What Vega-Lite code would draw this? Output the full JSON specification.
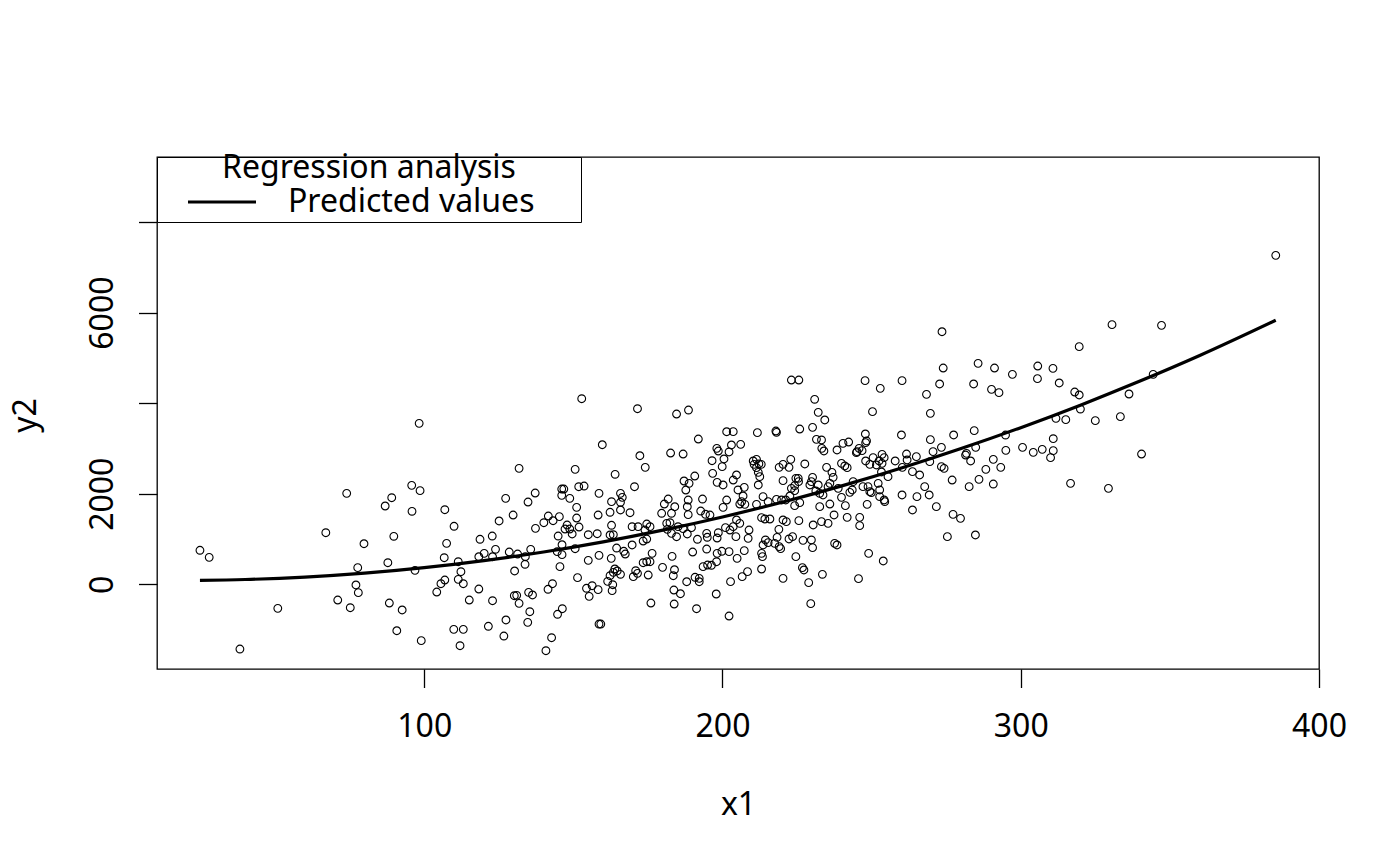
{
  "$schema": "https://vega.github.io/schema/vega-lite/v6.json",
  "description": "Scatter of y2 against x1 with a quadratic regression curve, base-R look.",
  "width": 1162,
  "height": 512,
  "autosize": {"type": "none"},
  "padding": {"left": 157, "top": 157, "right": 81, "bottom": 197},
  "background": "white",
  "datasets": {
    "points": [
      {"x1":98.3,"y2":3555},{"x1":74.0,"y2":2009},{"x1":95.8,"y2":2186},{"x1":98.6,"y2":2067},{"x1":89.1,"y2":1912},{"x1":86.9,"y2":1729},{"x1":95.9,"y2":1612},{"x1":106.9,"y2":1647},{"x1":110.0,"y2":1281},{"x1":67.0,"y2":1139},{"x1":89.8,"y2":1060},{"x1":79.8,"y2":896},{"x1":107.5,"y2":905},{"x1":118.7,"y2":994},{"x1":24.8,"y2":751},{"x1":27.9,"y2":596},{"x1":77.7,"y2":367},{"x1":87.8,"y2":477},{"x1":96.9,"y2":309},{"x1":106.7,"y2":587},{"x1":111.4,"y2":499},{"x1":112.3,"y2":278},{"x1":118.3,"y2":609},{"x1":77.1,"y2":-15},{"x1":77.9,"y2":-185},{"x1":105.6,"y2":13},{"x1":106.9,"y2":95},{"x1":104.2,"y2":-170},{"x1":111.4,"y2":110},{"x1":113.1,"y2":13},{"x1":118.3,"y2":-104},{"x1":71.0,"y2":-347},{"x1":75.2,"y2":-517},{"x1":88.3,"y2":-413},{"x1":92.6,"y2":-567},{"x1":115.1,"y2":-347},{"x1":50.9,"y2":-530},{"x1":90.8,"y2":-1025},{"x1":109.9,"y2":-994},{"x1":113.1,"y2":-994},{"x1":99.0,"y2":-1245},{"x1":112.0,"y2":-1356},{"x1":38.2,"y2":-1429},
      {"x1":152.8,"y2":4098},{"x1":171.5,"y2":3877},{"x1":184.6,"y2":3760},{"x1":188.6,"y2":3848},{"x1":201.4,"y2":3369},{"x1":191.9,"y2":3208},{"x1":159.7,"y2":3082},{"x1":172.3,"y2":2839},{"x1":182.6,"y2":2899},{"x1":186.8,"y2":2877},{"x1":174.1,"y2":2583},{"x1":131.8,"y2":2561},{"x1":150.6,"y2":2539},{"x1":164.0,"y2":2429},{"x1":198.1,"y2":3003},{"x1":198.6,"y2":2943},{"x1":196.5,"y2":2729},{"x1":200.5,"y2":2767},{"x1":199.9,"y2":2597},{"x1":196.7,"y2":2451},{"x1":190.7,"y2":2391},{"x1":187.1,"y2":2281},{"x1":188.8,"y2":2230},{"x1":187.7,"y2":2082},{"x1":198.2,"y2":2252},{"x1":200.2,"y2":2193},{"x1":201.4,"y2":1861},{"x1":170.5,"y2":2155},{"x1":151.8,"y2":2155},{"x1":153.6,"y2":2170},{"x1":146.1,"y2":2104},{"x1":146.8,"y2":2104},{"x1":146.1,"y2":1965},{"x1":148.8,"y2":1899},{"x1":137.2,"y2":2016},{"x1":134.8,"y2":1817},{"x1":127.3,"y2":1899},{"x1":158.6,"y2":2009},{"x1":165.8,"y2":2009},{"x1":166.4,"y2":1921},{"x1":162.8,"y2":1824},{"x1":165.8,"y2":1811},{"x1":151.1,"y2":1700},{"x1":125.1,"y2":1398},{"x1":129.8,"y2":1530},{"x1":141.6,"y2":1508},{"x1":140.1,"y2":1360},{"x1":145.3,"y2":1493},{"x1":143.2,"y2":1404},{"x1":151.1,"y2":1464},{"x1":158.3,"y2":1530},{"x1":162.3,"y2":1590},{"x1":165.8,"y2":1641},{"x1":169.0,"y2":1581},{"x1":181.8,"y2":1883},{"x1":180.5,"y2":1773},{"x1":184.0,"y2":1713},{"x1":188.5,"y2":1861},{"x1":188.2,"y2":1713},{"x1":188.5,"y2":1537},{"x1":193.3,"y2":1883},{"x1":192.7,"y2":1618},{"x1":194.3,"y2":1546},{"x1":195.8,"y2":1530},{"x1":179.6,"y2":1568},{"x1":182.9,"y2":1568},{"x1":200.2,"y2":1700},{"x1":137.3,"y2":1236},{"x1":147.9,"y2":1309},{"x1":148.8,"y2":1221},{"x1":151.9,"y2":1265},{"x1":147.2,"y2":1221},{"x1":149.6,"y2":1111},{"x1":155.0,"y2":1095},{"x1":158.0,"y2":1117},{"x1":162.8,"y2":1303},{"x1":162.3,"y2":1089},{"x1":163.4,"y2":1095},{"x1":169.7,"y2":1272},{"x1":171.7,"y2":1272},{"x1":174.6,"y2":1331},{"x1":175.7,"y2":1272},{"x1":174.0,"y2":1199},{"x1":173.4,"y2":956},{"x1":174.6,"y2":1000},{"x1":181.3,"y2":1347},{"x1":182.4,"y2":1360},{"x1":181.5,"y2":1214},{"x1":185.1,"y2":1272},{"x1":186.8,"y2":1228},{"x1":182.9,"y2":1126},{"x1":184.6,"y2":1051},{"x1":188.2,"y2":1111},{"x1":189.6,"y2":1250},{"x1":194.7,"y2":1126},{"x1":198.6,"y2":1139},{"x1":198.2,"y2":1022},{"x1":201.0,"y2":1250},{"x1":194.9,"y2":1038},{"x1":191.6,"y2":994},{"x1":122.8,"y2":1066},{"x1":120.1,"y2":684},{"x1":123.9,"y2":773},{"x1":122.9,"y2":609},{"x1":128.5,"y2":713},{"x1":131.3,"y2":669},{"x1":135.7,"y2":773},{"x1":133.9,"y2":609},{"x1":133.8,"y2":442},{"x1":144.9,"y2":1066},{"x1":146.2,"y2":874},{"x1":144.6,"y2":720},{"x1":146.2,"y2":654},{"x1":150.6,"y2":786},{"x1":158.6,"y2":640},{"x1":155.0,"y2":530},{"x1":145.5,"y2":389},{"x1":130.3,"y2":294},{"x1":164.5,"y2":801},{"x1":162.7,"y2":574},{"x1":166.9,"y2":729},{"x1":167.4,"y2":669},{"x1":169.7,"y2":868},{"x1":176.4,"y2":684},{"x1":174.6,"y2":499},{"x1":175.7,"y2":499},{"x1":173.4,"y2":477},{"x1":183.1,"y2":618},{"x1":190.0,"y2":713},{"x1":194.7,"y2":779},{"x1":198.2,"y2":684},{"x1":199.8,"y2":729},{"x1":198.0,"y2":499},{"x1":196.3,"y2":420},{"x1":195.0,"y2":426},{"x1":193.5,"y2":389},{"x1":179.9,"y2":375},{"x1":183.9,"y2":322},{"x1":183.5,"y2":190},{"x1":163.9,"y2":338},{"x1":164.7,"y2":294},{"x1":163.4,"y2":265},{"x1":165.8,"y2":221},{"x1":162.3,"y2":190},{"x1":161.5,"y2":66},{"x1":163.2,"y2":-9},{"x1":163.0,"y2":-141},{"x1":170.9,"y2":300},{"x1":170.1,"y2":168},{"x1":171.5,"y2":243},{"x1":175.1,"y2":205},{"x1":151.4,"y2":146},{"x1":154.4,"y2":-88},{"x1":156.3,"y2":-31},{"x1":158.3,"y2":-119},{"x1":155.3,"y2":-265},{"x1":143.0,"y2":13},{"x1":141.5,"y2":-110},{"x1":122.9,"y2":-362},{"x1":130.2,"y2":-252},{"x1":131.0,"y2":-243},{"x1":131.8,"y2":-420},{"x1":135.0,"y2":-177},{"x1":136.3,"y2":-236},{"x1":188.0,"y2":57},{"x1":192.2,"y2":132},{"x1":192.2,"y2":57},{"x1":190.8,"y2":155},{"x1":183.7,"y2":-126},{"x1":185.9,"y2":-208},{"x1":197.9,"y2":-214},{"x1":176.0,"y2":-413},{"x1":183.8,"y2":-435},{"x1":191.3,"y2":-539},{"x1":135.4,"y2":-605},{"x1":134.7,"y2":-839},{"x1":127.4,"y2":-788},{"x1":121.5,"y2":-927},{"x1":126.7,"y2":-1142},{"x1":146.3,"y2":-539},{"x1":144.7,"y2":-662},{"x1":142.7,"y2":-1179},{"x1":140.8,"y2":-1466},{"x1":158.6,"y2":-877},{"x1":159.2,"y2":-877},
      {"x1":223.1,"y2":4511},{"x1":225.6,"y2":4511},{"x1":247.8,"y2":4497},{"x1":252.9,"y2":4327},{"x1":260.2,"y2":4497},{"x1":268.4,"y2":4195},{"x1":272.8,"y2":4423},{"x1":274.0,"y2":4776},{"x1":284.2,"y2":4423},{"x1":285.7,"y2":4879},{"x1":230.9,"y2":4085},{"x1":232.1,"y2":3797},{"x1":234.3,"y2":3628},{"x1":250.3,"y2":3812},{"x1":269.7,"y2":3775},{"x1":203.6,"y2":3371},{"x1":211.7,"y2":3349},{"x1":217.9,"y2":3385},{"x1":218.1,"y2":3356},{"x1":225.9,"y2":3429},{"x1":230.2,"y2":3466},{"x1":247.9,"y2":3319},{"x1":260.0,"y2":3297},{"x1":277.5,"y2":3297},{"x1":284.4,"y2":3393},{"x1":269.7,"y2":3194},{"x1":231.5,"y2":3201},{"x1":233.2,"y2":3187},{"x1":248.3,"y2":3165},{"x1":242.3,"y2":3142},{"x1":240.4,"y2":3113},{"x1":238.4,"y2":2966},{"x1":233.3,"y2":3003},{"x1":234.0,"y2":2944},{"x1":245.8,"y2":3003},{"x1":244.9,"y2":2907},{"x1":248.0,"y2":3128},{"x1":206.1,"y2":3091},{"x1":203.0,"y2":3076},{"x1":202.2,"y2":2922},{"x1":210.3,"y2":2723},{"x1":211.4,"y2":2760},{"x1":210.6,"y2":2649},{"x1":212.2,"y2":2657},{"x1":213.0,"y2":2649},{"x1":211.4,"y2":2576},{"x1":212.0,"y2":2473},{"x1":212.5,"y2":2377},{"x1":212.0,"y2":2193},{"x1":222.9,"y2":2760},{"x1":220.3,"y2":2649},{"x1":219.0,"y2":2583},{"x1":222.3,"y2":2583},{"x1":227.6,"y2":2657},{"x1":234.9,"y2":2583},{"x1":236.7,"y2":2473},{"x1":237.1,"y2":2362},{"x1":239.9,"y2":2671},{"x1":241.0,"y2":2613},{"x1":241.8,"y2":2576},{"x1":245.1,"y2":2929},{"x1":246.8,"y2":2951},{"x1":248.0,"y2":2723},{"x1":250.5,"y2":2797},{"x1":252.5,"y2":2723},{"x1":253.5,"y2":2870},{"x1":254.2,"y2":2797},{"x1":253.5,"y2":2671},{"x1":249.4,"y2":2649},{"x1":251.6,"y2":2635},{"x1":253.3,"y2":2480},{"x1":257.9,"y2":2723},{"x1":261.7,"y2":2877},{"x1":261.9,"y2":2745},{"x1":260.3,"y2":2583},{"x1":265.0,"y2":2819},{"x1":266.1,"y2":2414},{"x1":263.7,"y2":2487},{"x1":269.5,"y2":2708},{"x1":270.6,"y2":2929},{"x1":273.4,"y2":3025},{"x1":273.4,"y2":2598},{"x1":274.3,"y2":2561},{"x1":281.5,"y2":2855},{"x1":281.8,"y2":2892},{"x1":283.2,"y2":2723},{"x1":284.9,"y2":3025},{"x1":204.7,"y2":2414},{"x1":203.6,"y2":2303},{"x1":205.2,"y2":2083},{"x1":207.3,"y2":2141},{"x1":206.9,"y2":1950},{"x1":206.4,"y2":1825},{"x1":205.8,"y2":1773},{"x1":207.5,"y2":1766},{"x1":220.3,"y2":2289},{"x1":224.6,"y2":2340},{"x1":225.4,"y2":2340},{"x1":225.5,"y2":2267},{"x1":224.2,"y2":2178},{"x1":224.2,"y2":2068},{"x1":223.1,"y2":2119},{"x1":230.2,"y2":2362},{"x1":229.8,"y2":2267},{"x1":229.3,"y2":2193},{"x1":232.1,"y2":2193},{"x1":236.0,"y2":2230},{"x1":235.4,"y2":2156},{"x1":231.3,"y2":2061},{"x1":232.6,"y2":2009},{"x1":233.7,"y2":1972},{"x1":238.8,"y2":2119},{"x1":243.8,"y2":2267},{"x1":243.5,"y2":2083},{"x1":242.7,"y2":2031},{"x1":247.1,"y2":2156},{"x1":248.8,"y2":2156},{"x1":249.4,"y2":2046},{"x1":249.9,"y2":2024},{"x1":252.2,"y2":2230},{"x1":252.7,"y2":2083},{"x1":255.5,"y2":2377},{"x1":252.7,"y2":1935},{"x1":254.2,"y2":1862},{"x1":254.4,"y2":1825},{"x1":260.2,"y2":1972},{"x1":265.2,"y2":1935},{"x1":269.3,"y2":1972},{"x1":267.8,"y2":2156},{"x1":277.0,"y2":2303},{"x1":282.7,"y2":2156},{"x1":286.0,"y2":2318},{"x1":213.6,"y2":1935},{"x1":211.4,"y2":1766},{"x1":215.3,"y2":1825},{"x1":218.1,"y2":1876},{"x1":219.8,"y2":1862},{"x1":221.2,"y2":1862},{"x1":222.6,"y2":1950},{"x1":225.9,"y2":1803},{"x1":224.2,"y2":1737},{"x1":232.6,"y2":1715},{"x1":236.0,"y2":1773},{"x1":239.9,"y2":1921},{"x1":241.2,"y2":1737},{"x1":248.5,"y2":1766},{"x1":204.7,"y2":1420},{"x1":203.6,"y2":1273},{"x1":205.8,"y2":1347},{"x1":202.5,"y2":1199},{"x1":208.9,"y2":1199},{"x1":208.6,"y2":1015},{"x1":204.5,"y2":1052},{"x1":213.1,"y2":1472},{"x1":214.2,"y2":1442},{"x1":215.9,"y2":1442},{"x1":218.9,"y2":1214},{"x1":218.3,"y2":1037},{"x1":220.3,"y2":1420},{"x1":221.4,"y2":1383},{"x1":225.6,"y2":1405},{"x1":230.4,"y2":1310},{"x1":233.2,"y2":1383},{"x1":235.4,"y2":1347},{"x1":237.4,"y2":1531},{"x1":241.8,"y2":1479},{"x1":246.0,"y2":1479},{"x1":246.0,"y2":1295},{"x1":263.7,"y2":1641},{"x1":271.7,"y2":1715},{"x1":277.3,"y2":1545},{"x1":279.8,"y2":1457},{"x1":275.4,"y2":1052},{"x1":284.8,"y2":1089},{"x1":214.4,"y2":979},{"x1":213.6,"y2":868},{"x1":215.3,"y2":920},{"x1":217.5,"y2":905},{"x1":219.0,"y2":831},{"x1":219.5,"y2":787},{"x1":223.5,"y2":1052},{"x1":222.3,"y2":1001},{"x1":227.0,"y2":971},{"x1":229.8,"y2":979},{"x1":230.2,"y2":809},{"x1":202.2,"y2":721},{"x1":207.3,"y2":743},{"x1":204.9,"y2":574},{"x1":213.1,"y2":684},{"x1":213.4,"y2":611},{"x1":224.6,"y2":611},{"x1":226.8,"y2":368},{"x1":227.3,"y2":316},{"x1":220.3,"y2":132},{"x1":213.1,"y2":338},{"x1":208.4,"y2":279},{"x1":206.6,"y2":169},{"x1":202.7,"y2":59},{"x1":237.6,"y2":905},{"x1":238.4,"y2":868},{"x1":249.0,"y2":684},{"x1":253.9,"y2":515},{"x1":233.5,"y2":221},{"x1":228.9,"y2":37},{"x1":245.6,"y2":125},{"x1":202.2,"y2":-700},{"x1":229.6,"y2":-427},
      {"x1":291.2,"y2":4776},{"x1":297.2,"y2":4636},{"x1":305.7,"y2":4820},{"x1":305.6,"y2":4540},{"x1":310.8,"y2":4768},{"x1":312.9,"y2":4445},{"x1":290.2,"y2":4305},{"x1":292.7,"y2":4231},{"x1":319.6,"y2":5247},{"x1":330.6,"y2":5733},{"x1":347.2,"y2":5718},{"x1":385.5,"y2":7263},{"x1":288.3,"y2":2538},{"x1":290.8,"y2":2759},{"x1":293.3,"y2":2582},{"x1":290.8,"y2":2214},{"x1":294.9,"y2":3296},{"x1":295.0,"y2":2958},{"x1":300.6,"y2":3024},{"x1":304.2,"y2":2914},{"x1":307.2,"y2":2980},{"x1":310.0,"y2":2796},{"x1":310.9,"y2":3215},{"x1":310.9,"y2":2951},{"x1":311.8,"y2":3664},{"x1":315.1,"y2":3635},{"x1":318.1,"y2":4246},{"x1":319.6,"y2":4180},{"x1":320.0,"y2":3870},{"x1":325.0,"y2":3613},{"x1":333.4,"y2":3701},{"x1":336.3,"y2":4202},{"x1":344.4,"y2":4636},{"x1":340.5,"y2":2877},{"x1":316.7,"y2":2229},{"x1":329.4,"y2":2119},{"x1":273.6,"y2":5577}
    ],
    "fit": [
      {"x1":24.8,"y2":88},{"x1":40,"y2":106},{"x1":60,"y2":159},{"x1":80,"y2":246},{"x1":100,"y2":368},{"x1":120,"y2":524},{"x1":140,"y2":713},{"x1":160,"y2":937},{"x1":180,"y2":1195},{"x1":200,"y2":1487},{"x1":220,"y2":1813},{"x1":240,"y2":2174},{"x1":260,"y2":2568},{"x1":280,"y2":2997},{"x1":300,"y2":3459},{"x1":320,"y2":3956},{"x1":340,"y2":4487},{"x1":360,"y2":5052},{"x1":385.5,"y2":5830}
    ]
  },
  "encoding": {
    "x": {
      "field": "x1",
      "type": "quantitative",
      "scale": {"domain": [10.4, 400], "nice": false, "zero": false},
      "axis": {
        "title": "x1",
        "values": [100, 200, 300, 400],
        "format": "d",
        "labelFlush": false,
        "labelOverlap": false,
        "labelBaseline": "alphabetic",
        "labelPadding": 49,
        "titleBaseline": "alphabetic",
        "titleY": 145
      }
    },
    "y": {
      "field": "y2",
      "type": "quantitative",
      "scale": {"domain": [-1870, 9435], "nice": false, "zero": false},
      "axis": {
        "title": "y2",
        "values": [0, 2000, 4000, 6000, 8000],
        "format": "d",
        "labelExpr": "datum.value == 4000 || datum.value == 8000 ? '' : datum.label",
        "labelOverlap": false,
        "labelFlush": false,
        "labelAngle": -90,
        "labelAlign": "center",
        "labelBaseline": "alphabetic",
        "labelPadding": 26.5,
        "titleAngle": -90,
        "titleAlign": "center",
        "titleBaseline": "alphabetic",
        "titleX": -122,
        "titleY": 258
      }
    }
  },
  "layer": [
    {
      "data": {"name": "points"},
      "mark": {"type": "point", "shape": "circle", "filled": false, "size": 60, "strokeWidth": 1.1, "color": "black", "opacity": 1}
    },
    {
      "data": {"name": "fit"},
      "mark": {"type": "line", "strokeWidth": 3.2, "interpolate": "monotone"},
      "encoding": {
        "color": {
          "datum": "Predicted values",
          "type": "nominal",
          "scale": {"range": ["black"]},
          "legend": {
            "title": "Regression analysis",
            "orient": "none",
            "legendX": 0,
            "legendY": 0,
            "padding": 0,
            "fillColor": "white",
            "strokeColor": "black",
            "titleAnchor": "middle",
            "titleBaseline": "line-top",
            "titleLineHeight": 24,
            "titlePadding": -7,
            "symbolType": "stroke",
            "symbolSize": 4624,
            "symbolStrokeWidth": 3,
            "symbolOffset": 29.5,
            "clipHeight": 40,
            "labelOffset": 30.5,
            "labelExpr": "datum.label + '\u2800\u2800'"
          }
        }
      }
    }
  ],
  "config": {
    "font": "Noto Sans",
    "view": {"stroke": "black", "strokeWidth": 1.3},
    "axis": {
      "domain": false,
      "grid": false,
      "ticks": true,
      "tickColor": "black",
      "tickWidth": 1.3,
      "tickSize": 18.5,
      "labelFont": "Noto Sans",
      "labelFontSize": 32,
      "labelColor": "black",
      "titleFont": "Noto Sans",
      "titleFontSize": 32,
      "titleFontWeight": "normal",
      "titleColor": "black"
    },
    "legend": {
      "labelFont": "Noto Sans",
      "labelFontSize": 32,
      "labelColor": "black",
      "titleFont": "Noto Sans",
      "titleFontSize": 32,
      "titleFontWeight": "normal",
      "titleColor": "black",
      "titleLimit": 600,
      "labelLimit": 600
    }
  }
}
